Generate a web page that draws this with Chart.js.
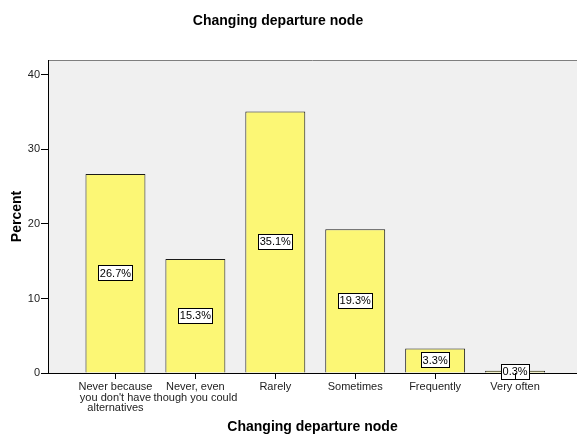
<!DOCTYPE html>
<html>
<head>
<meta charset="utf-8">
<script src="https://cdn.jsdelivr.net/npm/chart.js@4/dist/chart.umd.min.js"></script>
<style>
  body { margin: 0; overflow: hidden; background: #fff; }
</style>
</head>
<body>
<canvas id="myChart" width="577" height="440"></canvas>
<script>
var chartTitle = "Changing departure node";
var categories = [
    ["Never because", "you don't have", "alternatives"],
    ["Never, even", "though you could"],
    ["Rarely"],
    ["Sometimes"],
    ["Frequently"],
    ["Very often"]
];
var percentValues = [26.7, 15.3, 35.1, 19.3, 3.3, 0.3];
var yTicks = [0, 10, 20, 30, 40];

var fontName = "'Liberation Sans', Arial, sans-serif";

// plot background, top border line, title, x tick marks
const plotBackground = {
    id: 'plotBackground',
    beforeDraw(chart) {
        const {ctx, chartArea} = chart;
        ctx.save();
        ctx.fillStyle = '#f0f0f0';
        ctx.fillRect(chartArea.left, chartArea.top, chartArea.right - chartArea.left, chartArea.bottom - chartArea.top);
        ctx.strokeStyle = '#7f7f7f';
        ctx.lineWidth = 1;
        ctx.beginPath();
        ctx.moveTo(chartArea.left, Math.round(chartArea.top) + 0.5);
        ctx.lineTo(chartArea.right, Math.round(chartArea.top) + 0.5);
        ctx.stroke();
        ctx.restore();
    },
    afterDraw(chart) {
        const {ctx, chartArea} = chart;
        ctx.save();
        ctx.font = "bold 14px " + fontName;
        ctx.fillStyle = '#000';
        ctx.textAlign = 'center';
        ctx.textBaseline = 'middle';
        ctx.fillText(chartTitle, 278, 21);

        const xs = chart.scales.x;
        const yb = Math.round(chartArea.bottom);
        ctx.fillStyle = '#000';
        xs.ticks.forEach(t => {
            let px = Math.round(xs.getPixelForValue(t.value));
            ctx.fillRect(px, yb, 1, 6);
        });
        ctx.restore();
    }
};

// value labels in white boxes at bar middle
const barLabels = {
    id: 'barLabels',
    afterDatasetsDraw(chart) {
        const ctx = chart.ctx;
        const meta = chart.getDatasetMeta(0);
        ctx.save();
        ctx.font = "11px " + fontName;
        ctx.textAlign = 'center';
        ctx.textBaseline = 'middle';
        meta.data.forEach((bar, i) => {
            let text = percentValues[i].toFixed(1) + '%';
            let cy = (bar.y + bar.base) / 2;
            let w = Math.round(ctx.measureText(text).width + 4);
            let h = 16;
            let x0 = Math.round(bar.x - w / 2);
            let y0 = Math.round(cy - h / 2);
            ctx.fillStyle = '#fff';
            ctx.fillRect(x0, y0, w, h);
            ctx.strokeStyle = '#000';
            ctx.lineWidth = 1;
            ctx.strokeRect(x0 + 0.5, y0 + 0.5, w - 1, h - 1);
            ctx.fillStyle = '#000';
            ctx.fillText(text, bar.x, cy + 0.5);
        });
        ctx.restore();
    }
};

new Chart("myChart", {
    type: "bar",
    data: {
        datasets: [{
            data: percentValues.map((v, i) => ({x: i, y: v})),
            backgroundColor: '#fcf775',
            borderColor: '#1a1a1a',
            borderWidth: 1,
            categoryPercentage: 1,
            barPercentage: 0.75
        }]
    },
    options: {
        responsive: false,
        animation: false,
        layout: { padding: { top: 60, left: 0, right: 0, bottom: 0 } },
        plugins: {
            legend: { display: false },
            title: { display: false },
            tooltip: { enabled: false }
        },
        scales: {
            x: {
                type: 'linear',
                offset: false,
                min: -0.844,
                max: 5.775,
                afterBuildTicks: (scale) => {
                    scale.ticks = categories.map((c, i) => ({value: i}));
                },
                afterFit: (scale) => { scale.height = 67; },
                grid: { offset: false, drawOnChartArea: false, drawTicks: true, tickLength: 5, color: '#000' },
                border: { display: true, color: '#000', width: 1 },
                ticks: {
                    autoSkip: false,
                    maxRotation: 0,
                    padding: 4,
                    color: '#222',
                    font: { family: fontName, size: 11, lineHeight: 0.95 },
                    callback: (value) => categories[value]
                },
                title: {
                    display: true,
                    text: chartTitle,
                    color: '#000',
                    font: { family: fontName, size: 14, weight: 'bold' },
                    padding: { top: 0, bottom: 4 }
                }
            },
            y: {
                min: 0,
                max: 42,
                afterBuildTicks: (scale) => {
                    scale.ticks = yTicks.map(v => ({value: v}));
                },
                afterFit: (scale) => { scale.width = 48; },
                grid: { drawOnChartArea: false, drawTicks: true, tickLength: 7, color: '#000' },
                border: { display: true, color: '#000', width: 1 },
                ticks: {
                    padding: 1,
                    color: '#222',
                    font: { family: fontName, size: 11 }
                },
                title: {
                    display: true,
                    text: 'Percent',
                    color: '#000',
                    font: { family: fontName, size: 14, weight: 'bold' },
                    padding: { top: 9, bottom: 0 }
                }
            }
        }
    },
    plugins: [plotBackground, barLabels]
});
</script>
</body>
</html>
